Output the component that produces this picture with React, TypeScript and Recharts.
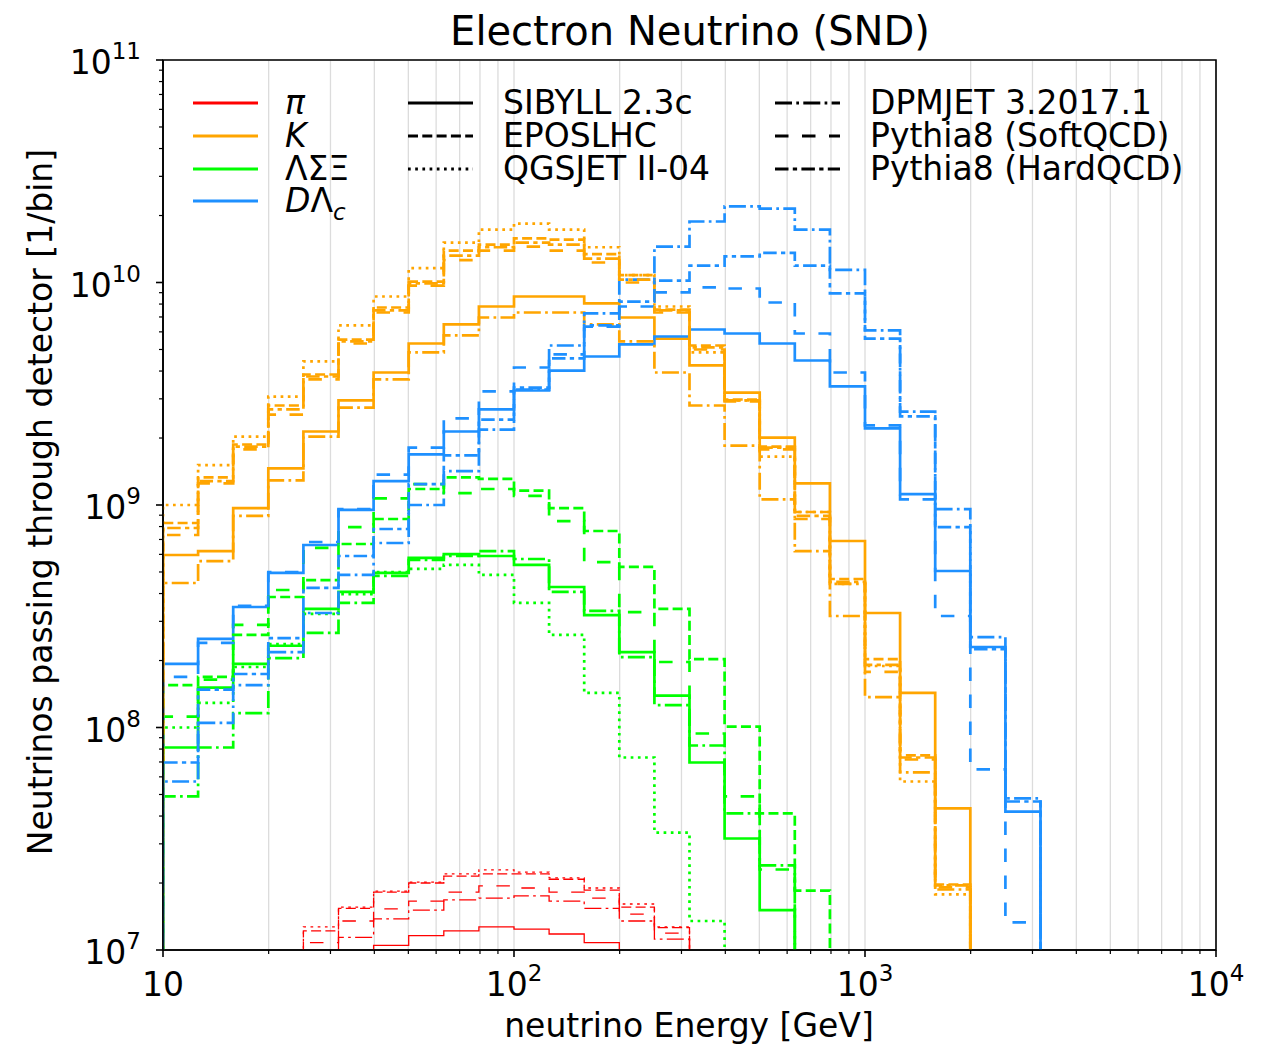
import React from 'react';
import { LineChart, Line, XAxis, YAxis, CartesianGrid, ReferenceArea } from 'recharts';

const FONT = '"DejaVu Sans", "Liberation Sans", sans-serif';
const W = 1252;
const H = 1037;

// Histogram bin edges [GeV], 10 logarithmic bins per decade
const BIN_EDGES = [
  10, 12.589, 15.849, 19.953, 25.119, 31.623, 39.811, 50.119, 63.096, 79.433,
  100, 125.89, 158.49, 199.53, 251.19, 316.23, 398.11, 501.19, 630.96, 794.33,
  1000, 1258.9, 1584.9, 1995.3, 2511.9, 3162.3,
];

// ---- pions (first filled bin: 4) ----
const PI_SIBYLL = [8.0e6, 9.0e6, 1.05e7, 1.16e7, 1.22e7, 1.27e7, 1.24e7, 1.18e7, 1.08e7, 9.0e6, 8.0e6];
const PI_EPOS = [1.22e7, 1.54e7, 1.82e7, 2.0e7, 2.15e7, 2.2e7, 2.2e7, 2.08e7, 1.86e7, 1.56e7, 1.26e7];
const PI_QGSJET = [1.27e7, 1.56e7, 1.84e7, 2.02e7, 2.2e7, 2.29e7, 2.24e7, 2.11e7, 1.9e7, 1.61e7, 1.27e7];
const PI_DPMJET = [9.0e6, 1.14e7, 1.38e7, 1.51e7, 1.68e7, 1.71e7, 1.75e7, 1.66e7, 1.54e7, 1.35e7, 1.12e7];
const PI_PY_SOFT = [1.08e7, 1.35e7, 1.53e7, 1.66e7, 1.82e7, 1.94e7, 1.9e7, 1.82e7, 1.71e7, 1.45e7, 1.19e7];

// ---- kaons (first filled bin: 0) ----
const K_SIBYLL = [5.96e8, 6.21e8, 9.69e8, 1.46e9, 2.14e9, 2.95e9, 3.94e9, 5.32e9, 6.48e9, 7.8e9, 8.65e9, 8.65e9, 8.05e9, 6.96e9, 5.6e9, 4.24e9, 3.2e9, 2.01e9, 1.25e9, 6.89e8, 3.27e8, 1.43e8, 4.33e7];
const K_EPOS = [8.3e8, 1.33e9, 1.87e9, 2.8e9, 3.86e9, 5.54e9, 7.72e9, 1.01e10, 1.39e10, 1.48e10, 1.58e10, 1.56e10, 1.34e10, 1.08e10, 7.56e9, 5.21e9, 2.98e9, 1.83e9, 9.3e8, 4.65e8, 2.03e8, 7.49e7, 1.97e7];
const K_QGSJET = [1.0e9, 1.51e9, 2.03e9, 3.07e9, 4.42e9, 6.41e9, 8.65e9, 1.16e10, 1.51e10, 1.73e10, 1.84e10, 1.73e10, 1.44e10, 1.08e10, 7.8e9, 4.85e9, 2.95e9, 1.65e9, 9.3e8, 4.42e8, 1.89e8, 5.72e7, 1.78e7];
const K_DPMJET = [4.46e8, 5.6e8, 8.93e8, 1.29e9, 2.03e9, 2.74e9, 3.67e9, 4.85e9, 5.78e9, 6.96e9, 7.33e9, 7.33e9, 6.48e9, 5.44e9, 3.94e9, 2.8e9, 1.85e9, 1.06e9, 6.21e8, 3.17e8, 1.37e8, 6.28e7, 1.87e7];
const K_PY_SOFT = [7.33e8, 1.25e9, 1.78e9, 2.55e9, 3.67e9, 5.32e9, 7.33e9, 9.69e9, 1.26e10, 1.39e10, 1.45e10, 1.39e10, 1.23e10, 1.0e10, 7.33e9, 5.0e9, 2.92e9, 1.78e9, 8.65e8, 4.42e8, 1.78e8, 7.18e7, 1.91e7];
const K_PY_HARD = [7.88e8, 1.28e9, 1.83e9, 2.69e9, 3.78e9, 5.44e9, 7.49e9, 9.9e9, 1.32e10, 1.44e10, 1.51e10, 1.48e10, 1.28e10, 1.03e10, 7.49e9, 5.11e9, 2.95e9, 1.81e9, 8.93e8, 4.51e8, 1.91e8, 7.33e7, 1.95e7];

// ---- hyperons (first filled bin: 0) ----
const L_SIBYLL = [8.13e7, 1.51e8, 1.93e8, 2.33e8, 3.41e8, 4.07e8, 4.95e8, 5.78e8, 6.02e8, 5.9e8, 5.38e8, 4.28e8, 3.2e8, 2.18e8, 1.39e8, 6.96e7, 3.17e7, 1.51e7];
const L_EPOS = [1.55e8, 1.69e8, 2.61e8, 3.86e8, 4.6e8, 6.68e8, 8.65e8, 1.18e9, 1.33e9, 1.31e9, 1.16e9, 9.69e8, 7.64e8, 5.27e8, 3.41e8, 2.03e8, 1.01e8, 4.11e7, 1.85e7];
const L_QGSJET = [1.0e8, 1.29e8, 1.87e8, 2.37e8, 3.24e8, 3.98e8, 5.0e8, 5.16e8, 5.38e8, 4.85e8, 3.63e8, 2.61e8, 1.43e8, 7.33e7, 3.37e7, 1.35e7];
const L_DPMJET = [4.9e7, 8.13e7, 1.16e8, 2.05e8, 2.66e8, 3.63e8, 4.8e8, 5.66e8, 5.9e8, 6.21e8, 5.72e8, 4.07e8, 3.34e8, 2.07e8, 1.26e8, 8.3e7, 4.11e7, 2.4e7];
const L_PY_SOFT = [1.12e8, 1.64e8, 2.89e8, 4.15e8, 6.41e8, 7.96e8, 1.07e9, 1.24e9, 1.13e9, 1.18e9, 1.1e9, 8.47e8, 5.54e8, 3.3e8, 1.97e8, 9.4e7, 4.9e7, 2.3e7];

// ---- charm (first filled bin: 0) ----
const D_SIBYLL = [1.93e8, 2.5e8, 3.48e8, 4.95e8, 6.61e8, 9.5e8, 1.28e9, 1.69e9, 2.14e9, 2.69e9, 3.27e9, 4.02e9, 4.65e9, 5.27e9, 5.72e9, 6.15e9, 5.9e9, 5.32e9, 4.46e9, 3.41e9, 2.21e9, 1.12e9, 5.05e8, 2.3e8, 4.19e7];
const D_DPMJET = [5.72e7, 1.05e8, 1.55e8, 2.18e8, 3.27e8, 4.85e8, 6.75e8, 1.0e9, 1.42e9, 2.18e9, 3.3e9, 5.21e9, 7.26e9, 1.03e10, 1.45e10, 1.88e10, 2.2e10, 2.15e10, 1.73e10, 1.14e10, 6.09e9, 2.63e9, 9.59e8, 2.55e8, 4.8e7];
const D_PY_SOFT = [1.69e8, 2.4e8, 3.52e8, 5.0e8, 6.82e8, 9.59e8, 1.37e9, 1.81e9, 2.45e9, 3.24e9, 4.15e9, 4.75e9, 6.34e9, 7.8e9, 9.02e9, 9.5e9, 9.4e9, 8.13e9, 5.9e9, 3.94e9, 2.28e9, 1.06e9, 3.17e8, 6.48e7, 1.33e7];
const D_PY_HARD = [6.96e7, 1.48e8, 1.74e8, 2.52e8, 4.24e8, 5.9e8, 7.8e8, 1.24e9, 1.67e9, 2.42e9, 3.37e9, 4.56e9, 6.41e9, 8.21e9, 1.02e10, 1.19e10, 1.31e10, 1.36e10, 1.19e10, 8.93e9, 5.6e9, 2.5e9, 7.96e8, 2.25e8, 4.65e7];

// Axis ticks
const X_TICKS = [
  10, 20, 30, 40, 50, 60, 70, 80, 90,
  100, 200, 300, 400, 500, 600, 700, 800, 900,
  1000, 2000, 3000, 4000, 5000, 6000, 7000, 8000, 9000,
  10000,
];
const Y_MAJOR = [1e7, 1e8, 1e9, 1e10, 1e11];
const Y_TICKS = [
  1e7, 2e7, 3e7, 4e7, 5e7, 6e7, 7e7, 8e7, 9e7,
  1e8, 2e8, 3e8, 4e8, 5e8, 6e8, 7e8, 8e8, 9e8,
  1e9, 2e9, 3e9, 4e9, 5e9, 6e9, 7e9, 8e9, 9e9,
  1e10, 2e10, 3e10, 4e10, 5e10, 6e10, 7e10, 8e10, 9e10,
  1e11,
];

const RED = '#ff0000';
const ORANGE = '#ffa500';
const GREEN = '#00ff00';
const BLUE = '#1e90ff';

const DASH: Record<string, string | undefined> = {
  sibyll: undefined,
  epos: '10 4.3',
  qgsjet: '2.7 4.5',
  dpmjet: '17 4.3 2.7 4.3',
  pysoft: '13.5 13.5',
  pyhard: '13.5 4.3 4.3 4.3',
};

type Series = { id: string; start: number; values: number[]; color: string; gen: string; width: number };

const SERIES: Series[] = [
  { id: 'pi-sibyll', start: 4, values: PI_SIBYLL, color: RED, gen: 'sibyll', width: 1.3 },
  { id: 'k-sibyll', start: 0, values: K_SIBYLL, color: ORANGE, gen: 'sibyll', width: 2.7 },
  { id: 'l-sibyll', start: 0, values: L_SIBYLL, color: GREEN, gen: 'sibyll', width: 2.7 },
  { id: 'd-sibyll', start: 0, values: D_SIBYLL, color: BLUE, gen: 'sibyll', width: 2.7 },
  { id: 'pi-epos', start: 4, values: PI_EPOS, color: RED, gen: 'epos', width: 1.3 },
  { id: 'k-epos', start: 0, values: K_EPOS, color: ORANGE, gen: 'epos', width: 2.7 },
  { id: 'l-epos', start: 0, values: L_EPOS, color: GREEN, gen: 'epos', width: 2.7 },
  { id: 'pi-qgsjet', start: 4, values: PI_QGSJET, color: RED, gen: 'qgsjet', width: 1.3 },
  { id: 'k-qgsjet', start: 0, values: K_QGSJET, color: ORANGE, gen: 'qgsjet', width: 2.7 },
  { id: 'l-qgsjet', start: 0, values: L_QGSJET, color: GREEN, gen: 'qgsjet', width: 2.7 },
  { id: 'pi-dpmjet', start: 4, values: PI_DPMJET, color: RED, gen: 'dpmjet', width: 1.3 },
  { id: 'k-dpmjet', start: 0, values: K_DPMJET, color: ORANGE, gen: 'dpmjet', width: 2.7 },
  { id: 'l-dpmjet', start: 0, values: L_DPMJET, color: GREEN, gen: 'dpmjet', width: 2.7 },
  { id: 'd-dpmjet', start: 0, values: D_DPMJET, color: BLUE, gen: 'dpmjet', width: 2.7 },
  { id: 'pi-pysoft', start: 4, values: PI_PY_SOFT, color: RED, gen: 'pysoft', width: 1.3 },
  { id: 'k-pysoft', start: 0, values: K_PY_SOFT, color: ORANGE, gen: 'pysoft', width: 2.7 },
  { id: 'l-pysoft', start: 0, values: L_PY_SOFT, color: GREEN, gen: 'pysoft', width: 2.7 },
  { id: 'd-pysoft', start: 0, values: D_PY_SOFT, color: BLUE, gen: 'pysoft', width: 2.7 },
  { id: 'k-pyhard', start: 0, values: K_PY_HARD, color: ORANGE, gen: 'pyhard', width: 2.7 },
  { id: 'd-pyhard', start: 0, values: D_PY_HARD, color: BLUE, gen: 'pyhard', width: 2.7 },
];

// Below the visible range; used to close each histogram outline at its outer edges
const FLOOR = 1e5;

// Histogram outline as step points: rises at the first edge, falls after the last bin
function toSteps(start: number, values: number[]) {
  const pts: { e: number; v: number }[] = [{ e: BIN_EDGES[start], v: FLOOR }];
  values.forEach((v, i) => pts.push({ e: BIN_EDGES[start + i], v }));
  pts.push({ e: BIN_EDGES[start + values.length], v: FLOOR });
  return pts;
}

const isMajor = (v: number) => Math.abs(Math.log10(v) - Math.round(Math.log10(v))) < 1e-6;

const XTick = (props: any) => {
  const { x, y, payload } = props;
  const v = payload.value as number;
  const major = isMajor(v);
  const exp = Math.round(Math.log10(v));
  return (
    <g>
      <line x1={x} x2={x} y1={y} y2={y + (major ? 7 : 4)} stroke="#000" strokeWidth={major ? 1.6 : 1.2} />
      {major && (
        <text x={x} y={y + 46} textAnchor="middle" fontSize={33} fill="#000" fontFamily={FONT}>
          10
          {exp > 1 && (
            <tspan dy={-15} fontSize={23}>
              {exp}
            </tspan>
          )}
        </text>
      )}
    </g>
  );
};

const YTick = (props: any) => {
  const { x, y, payload } = props;
  const v = payload.value as number;
  const major = isMajor(v);
  const exp = Math.round(Math.log10(v));
  return (
    <g>
      <line x1={x - (major ? 7 : 4)} x2={x} y1={y} y2={y} stroke="#000" strokeWidth={major ? 1.6 : 1.2} />
      {major && (
        <text x={x - 22} y={y + 14} textAnchor="end" fontSize={33} fill="#000" fontFamily={FONT}>
          10
          <tspan dy={-15} fontSize={23}>
            {exp}
          </tspan>
        </text>
      )}
    </g>
  );
};

const PARTICLE_ROWS = [
  { color: RED, label: <tspan fontStyle="italic">π</tspan> },
  { color: ORANGE, label: <tspan fontStyle="italic">K</tspan> },
  { color: GREEN, label: <tspan>ΛΣΞ</tspan> },
  {
    color: BLUE,
    label: (
      <>
        <tspan fontStyle="italic">D</tspan>
        <tspan>Λ</tspan>
        <tspan fontStyle="italic" fontSize={23} dy={8}>
          c
        </tspan>
      </>
    ),
  },
];

const GEN_COL1 = [
  { gen: 'sibyll', label: 'SIBYLL 2.3c' },
  { gen: 'epos', label: 'EPOSLHC' },
  { gen: 'qgsjet', label: 'QGSJET II-04' },
];
const GEN_COL2 = [
  { gen: 'dpmjet', label: 'DPMJET 3.2017.1' },
  { gen: 'pysoft', label: 'Pythia8 (SoftQCD)' },
  { gen: 'pyhard', label: 'Pythia8 (HardQCD)' },
];

const ROW_Y = [95, 128, 161, 193];

function Overlay() {
  return (
    <svg
      width={W}
      height={H}
      style={{ position: 'absolute', left: 0, top: 0, pointerEvents: 'none' }}
      fontFamily={FONT}
    >
      <text x={682} y={37} textAnchor="middle" fontSize={40} fill="#000">
        Electron Neutrino (SND)
      </text>
      <text x={681} y={1029} textAnchor="middle" fontSize={33} fill="#000">
        neutrino Energy [GeV]
      </text>
      <text x={44} y={494} textAnchor="middle" fontSize={33} fill="#000" transform="rotate(-90 44 494)">
        Neutrinos passing through detector [1/bin]
      </text>

      {PARTICLE_ROWS.map((r, i) => (
        <g key={`p${i}`}>
          <line x1={185} x2={250} y1={ROW_Y[i]} y2={ROW_Y[i]} stroke={r.color} strokeWidth={3} />
          <text x={277} y={ROW_Y[i] + 11} fontSize={33} fill="#000">
            {r.label}
          </text>
        </g>
      ))}
      {GEN_COL1.map((g, i) => (
        <g key={`g1${i}`}>
          <line x1={400} x2={465} y1={ROW_Y[i]} y2={ROW_Y[i]} stroke="#000" strokeWidth={3} strokeDasharray={DASH[g.gen]} />
          <text x={495} y={ROW_Y[i] + 11} fontSize={33} fill="#000">
            {g.label}
          </text>
        </g>
      ))}
      {GEN_COL2.map((g, i) => (
        <g key={`g2${i}`}>
          <line x1={767} x2={832} y1={ROW_Y[i]} y2={ROW_Y[i]} stroke="#000" strokeWidth={3} strokeDasharray={DASH[g.gen]} />
          <text x={862} y={ROW_Y[i] + 11} fontSize={33} fill="#000">
            {g.label}
          </text>
        </g>
      ))}
    </svg>
  );
}

export default function App() {
  return (
    <div style={{ position: 'relative', width: W, height: H, background: '#fff', fontFamily: FONT }}>
      <LineChart width={W} height={H} margin={{ top: 52, right: 44, bottom: 0, left: 0 }}>
        <CartesianGrid vertical horizontal={false} stroke="#dcdcdc" strokeWidth={1.3} />
        <CartesianGrid yAxisId="grid" vertical={false} horizontal stroke="#dcdcdc" strokeWidth={1.3} />
        <XAxis
          dataKey="e"
          type="number"
          scale="log"
          domain={[10, 10000]}
          allowDataOverflow
          ticks={X_TICKS}
          interval={0}
          tick={<XTick />}
          tickLine={false}
          tickSize={0}
          tickMargin={0}
          axisLine={{ stroke: '#000', strokeWidth: 1.6 }}
          height={95}
        />
        <YAxis
          type="number"
          scale="log"
          domain={[1e7, 1e11]}
          allowDataOverflow
          ticks={Y_TICKS}
          interval={0}
          tick={<YTick />}
          tickLine={false}
          tickSize={0}
          tickMargin={0}
          axisLine={{ stroke: '#000', strokeWidth: 1.6 }}
          width={155}
        />
        <YAxis
          yAxisId="grid"
          type="number"
          scale="log"
          domain={[1e7, 1e11]}
          allowDataOverflow
          ticks={Y_MAJOR}
          interval={0}
          tick={false}
          tickLine={false}
          axisLine={false}
          width={0}
        />
        {SERIES.map((s) => (
          <Line
            key={s.id}
            name={s.id}
            data={toSteps(s.start, s.values)}
            dataKey="v"
            type="stepAfter"
            stroke={s.color}
            strokeWidth={s.width}
            strokeDasharray={DASH[s.gen]}
            dot={false}
            activeDot={false}
            isAnimationActive={false}
            legendType="none"
          />
        ))}
        <ReferenceArea
          x1={10}
          x2={10000}
          y1={1e7}
          y2={1e11}
          fill="none"
          stroke="#000"
          strokeWidth={1.6}
          ifOverflow="visible"
        />
      </LineChart>
      <Overlay />
    </div>
  );
}
